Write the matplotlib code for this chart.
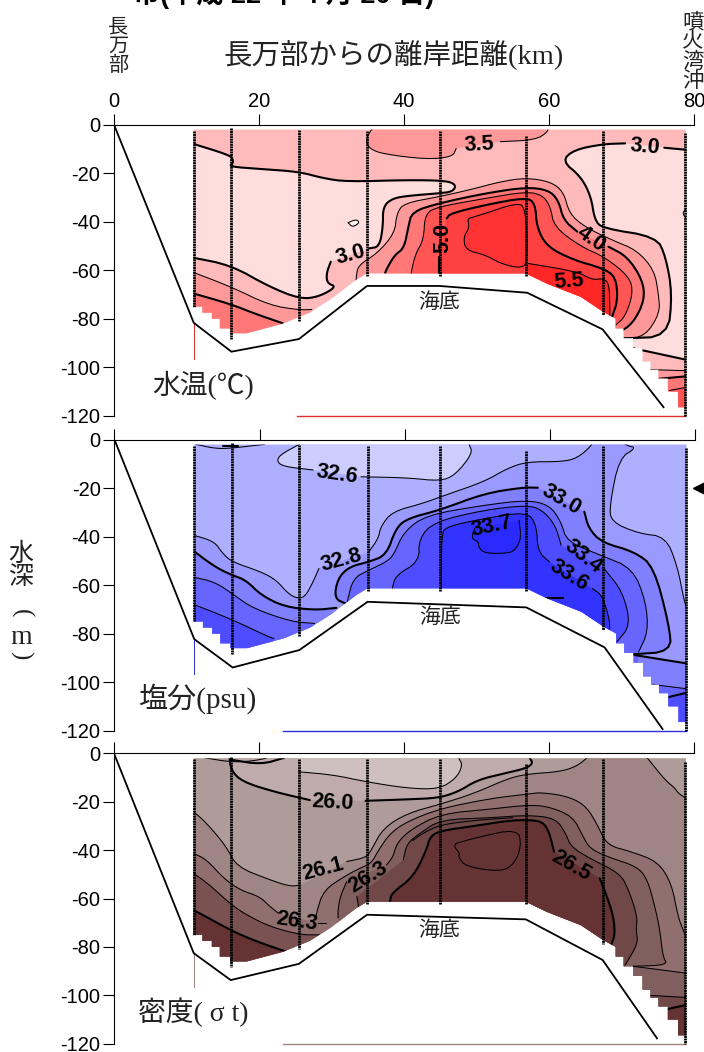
import numpy as np
import matplotlib
matplotlib.use("Agg")
import matplotlib.pyplot as plt
from matplotlib.patches import Polygon

SERIF = ['Liberation Serif', 'Noto Sans CJK JP']
SANS = ['Liberation Sans', 'Noto Sans CJK JP']
plt.rcParams['font.family'] = SANS

G = (np.nan, np.nan)  # gap in a contour, where its label sits
THIN, THICK = 0.75, 1.5

x_ticks = [0, 20, 40, 60, 80]
y_ticks = [0, -20, -40, -60, -80, -100, -120]
y_tick_labels = ['0', '-20', '-40', '-60', '-80', '-100', '-120']

station_km = [11.0, 16.2, 25.5, 34.9, 44.9, 56.8, 67.4, 78.8]
station_top = [2.5, 1.5, 2.2, 2.5, 2.5, 4.5, 2.5, 3.4]
station_bottom = [75, 88.5, 81, 62.3, 62.3, 62.3, 78.6, 120]

sea_km = [11, 12.2, 12.2, 13.5, 13.5, 14.6, 14.6, 16, 16, 18.3, 23.3, 27, 29.9, 33.4, 34.9,
          56.8, 59.7, 64.4, 67.4, 69.2, 69.2, 70.3, 70.3, 71.6, 71.6, 72.9, 72.9, 74, 74,
          75.1, 75.1, 76.4, 76.4, 77.8, 77.8, 78.9, 78.9]
sea_depth = [75, 75, 77.5, 77.5, 80, 80, 84, 84, 86, 86, 82, 77.5, 72, 64, 61.3,
             61.3, 65.5, 71, 77, 80, 84, 84, 88, 88, 92, 92, 97.7, 97.7, 101,
             101, 104.6, 104.6, 110, 110, 116.5, 116.5, 118]
sea_surface = 2.0

# ---------- water temperature contours (km, depth) ----------
seabed_T = [(0, 0), (11, 81.7), (16.2, 93.6), (25.5, 88.4), (34.9, 66.5), (44.9, 66.5), (57, 69.3), (67.4, 84.4), (75.8, 116.5)]
T30_left = [(10.5, 7.5), (15.9, 12.5), (16.4, 14.3), (16.4, 15.9), (15.9, 17.3), (20.4, 18.3), (25.5, 19.4), (28.9, 22.1),
            (32.1, 23.5), (40.6, 22.8), (45.9, 23.1), (47.2, 24.9), (46.7, 27.6), (44.8, 28.3), (40.6, 29.3), (38.4, 30.4),
            (37.1, 33.8), (37.1, 42.1), (36.6, 50.3), (35.2, 51), G, (29.9, 56.5), (29.3, 61.3), (29.4, 65.4), (30.7, 66.8),
            (28.3, 70.9), (25.7, 71.9), (21.4, 66.8), (16.1, 57.9), (10.5, 54.6)]
T30_right = [(79.5, 10.5), (75.9, 9.5), G, (70.5, 7.7), (67.4, 8), (63.4, 10.4), (61.8, 15), (64.4, 21.4), (65.8, 29.7),
             (66.3, 39.3), (67.4, 42.7), (74.8, 46.2), (76.1, 54.4), (77, 69.6), (76.4, 87.4), (70.3, 88.1), G, (71.6, 92.2), (79.5, 97.3)]
T25_oval = [(32.3, 40.4), (33.4, 39), (33.9, 40.4), (32.9, 42.3), (32.3, 40.4)]
T25_edge = [(78.9, 34.5), (78.4, 36.6), (78.9, 38.5)]
T35_surface = [(36.2, 0), (35.5, 1.9), (34.7, 6.3), (35.2, 9.8), (37.1, 12.1), (43.2, 14.3), (46.7, 13.2), (47.2, 9.8), G,
               (53.3, 7), (58.1, 6.3), (59.9, 2.9), (59.9, 0)]
T35_left = [(10.5, 60.4), (16.1, 66.8), (21.4, 74.4), (25.5, 76.4), (27.3, 76.2), G, (27.3, 100), (10.5, 100)]
T40_left = [(10.5, 69.2), (16.1, 74), (19.3, 77.8), (23.3, 81.9), G, (23.3, 100), (10.5, 100)]
T35_main = [(33.4, 66), (33.4, 62.7), (33.7, 57.9), (36.3, 53.1), (38.7, 44.8), (39, 36.6), (40, 32.4), (44.8, 29.7), (49, 26.9),
            (53.3, 23.5), (56.8, 21.9), (60.2, 23.5), (62, 27.6), (62.8, 36.6), (64.9, 42.1), (68.7, 47.6), (72.1, 51.7),
            (74.5, 59.9), (75.1, 69.6), (75.3, 77.8), (73.2, 87.4), (70.4, 88.1), G, (70.4, 100), (33.4, 100)]
T40_main = [(37.4, 62), (37.4, 60.6), (38.7, 53.7), (40, 51), (40.6, 42.1), (41.1, 35.9), (44.8, 32.4), (51.2, 28.3), (56.8, 25.8),
            (59.9, 26.9), (61.3, 31.1), (62, 39.3), (63.9, 44.1), G, (68.2, 50.3), (70.8, 54.4), (72.9, 64), (73.2, 72.3),
            (71.6, 81.9), (69.5, 86), G, (69.5, 100), (37.4, 100)]
T45_main = [(41, 62), (41, 60.6), (41.6, 53.1), (42.7, 47.6), (42.9, 36.6), (44.8, 33.8), (51.2, 30.4), (56.8, 27.6), (59.1, 29),
            (60.2, 33.8), (60.7, 42.1), (64.4, 50.3), (67.6, 54.4), (71.1, 62.7), (71.6, 69.6), (70.5, 79.2), (69.2, 82.6), G,
            (69.2, 100), (41, 100)]
T50_main = [(44.8, 62), (44.8, 54.4), G, (45.9, 38.6), (46.4, 36.6), (51.2, 33.1), (56.8, 30), (58.1, 32.4), (58.3, 42.1),
            (59.7, 50.3), (63.4, 55.8), (67.4, 59.2), (69.2, 62.7), (69.5, 72.3), (68.7, 79.2), G, (68.7, 100), (44.8, 100)]
T55_inner = [(49, 38.6), (51.2, 36.6), (55.4, 32.4), (56.8, 33.8), (57.1, 57.2), (55.9, 59.2), (53.3, 57.2), (51.2, 53.7),
             (48.5, 51.7), (48.2, 46.2), (49, 42.7), (48.8, 39.3), (49, 38.6)]
T55_low = [(57.1, 57.2), (63.9, 60.6), (66, 64), (67.4, 63.4), (68.3, 65.4), (68.4, 75.7), (68.4, 100), (57.1, 100)]
T35_right_low = [(74, 101), (79.5, 101.5), G, (79.5, 125), (74, 125)]
T40_right_low = [(75.1, 104.8), (79.5, 103.6), G, (79.5, 125), (75.1, 125)]
T45_right_low = [(76.6, 109.6), (79.5, 108), G, (79.5, 125), (76.6, 125)]
T_colors = ['#FFBBBB', '#FFDDDD', '#FFF2F2', '#FF9999', '#FF7777', '#FF5555', '#FF4040', '#FF3333', '#FF2626']
T_labels = ['3.5', '3.0', '3.0', '5.0', '4.0', '5.5']
T_label_km = [50.4, 73.2, 32.7, 45.3, 65.8, 62.7]
T_label_depth = [8.4, 9.1, 53.5, 46.9, 47.3, 64.5]
T_label_angle = [3, -5, 15, 90, -35, 4]

# ---------- salinity contours ----------
seabed_S = [(0, 0), (11, 82.3), (16.3, 94), (25.5, 86.8), (34.9, 66.9), (56.8, 69.2), (67.6, 85.7), (75.6, 119.4)]
S326 = [(25.5, 1.9), (22.8, 6.3), (22.4, 9.1), (23.4, 11.1), (27.4, 12.5), G, (34, 15.3), (40.4, 15.7), (44.9, 17.1), (47, 14.6),
        (49.4, 5.6), (48.9, 1.9), (48.9, 0), (25.5, 0)]
S326_lens = [(11.2, 1.9), (13.8, 3.6), (15.9, 3.6), (20.7, 1.9)]
S_mark = [(15, 2.6), (17, 2.6)]
S328 = [(65.9, 0), (65.9, 2.2), (63.8, 7.7), (61.6, 9.1), (56.9, 9.1), (54.2, 11.8), (51, 17.3), (45.7, 22.8), (42.5, 26.3), (38.3, 29.7),
        (36.7, 35.9), (36.4, 40.7), (35.1, 46.2), G, (28.2, 53.1), (27.4, 58.6), (26.3, 64.8), (25.2, 65.5), (23.9, 63.4), (22.3, 57.9),
        (20.2, 54.5), (16.2, 50.4), (14.9, 46.9), (13.8, 42.1), (11.2, 39.6), (10.5, 39.5), G, (10.5, 125), (79.5, 125), G,
        (79, 70), (78.6, 66.9), (77.6, 51.7), (76, 40), (72.3, 38.7), (68.5, 33.9), (68.3, 27), (69.6, 7.7), (72, 3.3), (70.7, 2.5), (69.6, 0)]
S330_main = [(32, 67.8), (30.3, 65.5), (30.8, 57.2), (32.4, 52.4), (35.1, 50.4), (37.5, 47.6), (38.8, 36.6), (40.4, 32.5), (44.9, 29),
             (51, 22.2), (56.3, 19.7), (58.4, 19.8), G, (64.8, 29.7), (65.4, 36.6), (67.2, 42.4), (71.7, 46.2), (74.4, 52.4), (76.5, 76.5),
             (76.8, 87.5), (71.2, 88.6), G, (70, 100), (32, 100)]
S330_left = [(10.5, 45), (13.8, 52.4), (16.2, 55.9), (18.1, 57.9), (20.2, 64.1), (23.4, 68.9), (27.6, 70.3), (30.6, 69.4), G, (30.6, 100), (10.5, 100)]
S330_right_low = [(71.2, 88.6), (78.8, 92.3), (79.5, 92.4), G, (79.5, 125), (71.2, 125)]
S332_main = [(32.1, 66.9), (32.9, 57.2), (35.1, 53.8), (37.5, 50.4), (38.5, 47.6), (39.9, 38), (43, 31.1), (51, 27), (56.9, 24.9), (60, 27),
             (61.6, 33.9), (62.4, 42.1), (67, 47.6), (71.5, 53.1), (73.3, 66.9), (73.6, 79.3), (72.3, 87.5), G, (72, 100), (32, 100)]
S332_left = [(10.5, 56.5), (13.8, 58.6), (16.5, 64.1), (19.1, 69.6), (24.4, 75.1), (27.6, 75.8), G, (27.6, 100), (10.5, 100)]
S332_right_low = [(74.2, 101), (79.5, 103), G, (79.5, 125), (74.2, 125)]
S334_main = [(38.3, 62), (38.3, 61.4), (38.8, 55.9), (42, 50.4), (42, 40.7), (44.1, 33.9), (51, 29), (56.9, 27), (59, 29), (60.8, 35.2), (61.6, 43.5), G,
             (67.5, 53.1), (70.1, 62.7), (71.2, 76.5), (69.3, 83.4), G, (69, 100), (38.3, 100)]
S334_left = [(10.5, 67.5), (15.9, 73.8), (21.3, 81.4), (22, 82), G, (22, 100), (10.5, 100)]
S334_right_low = [(75.3, 107), (79.5, 104), G, (79.5, 125), (75.3, 125)]
S336_main = [(45.1, 62), (45.1, 39.4), (45.7, 35.9), (51, 32.5), (56.9, 29.7), (58.2, 35.2), (58.4, 46.2), (60, 50.4), G, (65.9, 61.4),
             (67.2, 64.1), (68, 71), (68.4, 77.2), (68, 80), G, (67, 100), (45, 100)]
S337 = [(55.8, 33.2), (56.1, 40.7), (55.3, 45.5), (54.2, 46.9), (51, 46.9), (50.2, 44.2), (50.2, 42.1), (49.2, 40.7), (49.7, 36.6)]
S_dash = [(59.5, 65.5), (61.9, 65.5)]
S_colors = ['#AFAFFF', '#CCCCFF', '#9999FF', '#8080FF', '#6666FF', '#4D4DFF', '#3333FF', '#2A2AFF']
S_labels = ['32.6', '32.8', '33.0', '33.4', '33.6', '33.7']
S_label_km = [30.7, 31.3, 61.6, 64.7, 62.7, 52.1]
S_label_depth = [14.3, 49.7, 24.9, 48.3, 55.9, 35.9]
S_label_angle = [-8, 15, -30, -38, -32, 12]

# ---------- density contours ----------
seabed_D = [(0, 0), (11, 82.6), (16.1, 93.7), (25.5, 87), (34.9, 66.7), (56.8, 68.6), (67.4, 85.4), (74.9, 117.8)]
D259 = [(25.5, 7.6), (30.3, 8.9), (34.7, 11.7), (40.4, 14.4), (44.8, 14.8), (47.2, 10.3), (48.1, 4.8), (47.5, 1.8), (47.5, 0), (25.5, 0)]
D260 = [(15.9, 0), (16.1, 6.9), (17.7, 11.7), (22, 15.8), (27, 19.3), G, (34.7, 19.6), (40.6, 19), (44.8, 18.4), (47.5, 15.8), (50.1, 11),
        (53.8, 8.3), (56.8, 6.2), (57.8, 4.1), (57.3, 1.8), (57.3, 0)]
D_top_thin = [(12.5, 1.8), (16.1, 3.6), (19, 3.2), (21, 2)]
D_top_thick = [(16.1, 2.6), (20.3, 4.6), (23.5, 1.8)]
D261 = [(65.4, 0), (65.4, 1.6), (63.7, 5.5), (61.4, 7.6), (57.1, 8.5), (54.4, 10.3), (49.7, 16.5), (45, 21), (40.4, 24.8), (37.1, 31), (35.5, 39.9),
        (34.8, 43), (32.1, 44.7), G, (25.7, 54.4), (24.3, 55), (21.5, 52.3), (16.9, 46.8), (15.5, 38.5), (12.8, 28.9), (11, 24.1), (10.5, 24), G,
        (10.5, 125), (79.5, 125), G, (79.5, 19.6), (77.8, 16.5), (77.4, 14.4), (76, 11), (73.6, 2), (73, 0)]
D262_main = [(27.9, 68), (27.9, 66.1), (28.9, 56.5), (32.1, 50.3), (33.9, 47.5), (35.5, 45.4), (36.5, 39.9), (38.1, 33), (40.4, 28.2), (45, 22.8),
             (52, 18.6), (57.1, 16.8), (59, 16.1), (62.8, 17.9), (65.2, 22), (66.8, 30.3), (68, 37.9), (71.3, 40.6), (75, 44.7), (76.9, 53.7),
             (77.8, 67.5), (78.5, 73), (79.5, 80), G, (79.5, 125), (28, 125)]
D262_left = [(10.5, 41.3), (11, 41.3), (12.8, 44), (15.1, 51.6), (17.4, 56.5), (20.1, 59.2), (21.5, 63.3), (22.7, 66.1), G, (28.2, 70.2), (29.3, 70.2), G,
             (30, 100), (10.5, 100)]
D263_main = [(30.9, 68), (30.9, 64.7), (31.2, 59.2), (32.1, 53), G, (37.6, 46.1), (38.5, 42.7), (39, 37.2), (40.8, 31.7), (45, 25), (52, 23), (57.1, 21.3),
             (60, 22), (63.3, 26.1), (64.7, 34.4), (65.6, 39.2), (68, 42.7), (72.2, 46.8), (73.6, 52.3), (74.6, 63.3), (75.3, 73), (75.7, 84), (76.4, 87.5),
             (71.6, 88), G, (71, 100), (31, 100)]
D263_left = [(10.5, 49.6), (11, 49.6), (13.2, 54.4), (16.2, 62.6), (18.3, 66.8), (21.5, 71.6), (25.7, 75), (28.4, 75), G, (28.4, 100), (10.5, 100)]
D263_right_low = [(71.6, 88), (78.8, 90.8), (79.5, 91), G, (79.5, 125), (71.6, 125)]
D264_main = [(33.7, 64), (33.7, 62.6), (33.5, 59.2), G, (39.9, 44), (40.4, 37.2), (42.2, 33), (45, 27.4), (52, 26.6), (57.1, 25.5), (60.9, 26.8), (62.3, 33),
             (63, 38.5), (65.6, 43.4), (69.8, 49.6), (71, 56.5), (72.2, 67.5), (72, 73), (72.3, 78.5), (70.5, 87.5), G, (70, 100), (34, 100)]
D264_extra = [(41.2, 36), (42.6, 33), (45, 29.5), (50, 27.6), (55, 26.6)]
D264_right_low = [(73.9, 100), (79.5, 101), G, (79.5, 125), (73.9, 125)]
D265_main = [(38, 62), (38.1, 60.6), (38.3, 57.8), (41.3, 51), (43.1, 39.9), (43.6, 34.4), (45, 32), (49.7, 30), (54.4, 27.8), (57.1, 27.5), (59.1, 28.2),
             (60, 32.3), (60.7, 40.6), G, (67, 51.6), (68, 59.2), (68.9, 67.5), (69.1, 75), (68.6, 79), G, (68.5, 100), (38, 100)]
D265_left = [(10.5, 64.7), (11, 64.7), (16.2, 73.3), (19.7, 77.8), (23.8, 82), G, (24, 100), (10.5, 100)]
D265_right_low = [(75.2, 106.5), (78.8, 104), (79.5, 104), G, (79.5, 125), (75.2, 125)]
D266 = [(47.2, 37.2), (49.6, 35.1), (55.7, 31), (56.2, 38.6), (55.1, 46.1), (53.3, 48.9), (48.5, 46.8), (47.5, 42.7), (47.7, 41.3), (46.9, 38.6), (47.2, 37.2)]
D_colors = ['#B09B9B', '#BFABAB', '#CFC0C0', '#A08585', '#916F6F', '#825F5F', '#704848', '#7A5252', '#653333']
D_labels = ['26.0', '26.1', '26.3', '26.3', '26.5']
D_label_km = [30.2, 28.8, 35, 25.2, 63.1]
D_label_depth = [20.4, 47.9, 51, 69.6, 46.6]
D_label_angle = [-3, 15, 32, -8, -30]

W, H = 704, 1052
fig = plt.figure(figsize=(W / 100, H / 100), dpi=100, facecolor='white')
INK = '#222222'


def make_axes(top_px, bottom_px, left_px=114, show_x=False):
    ax = fig.add_axes([left_px / W, 1 - bottom_px / H, 580 / W, (bottom_px - top_px) / H])
    ax.set_xlim(0, 80)
    ax.set_ylim(-120, 0)
    for s in ('right', 'bottom'):
        ax.spines[s].set_visible(False)
    for s in ('top', 'left'):
        ax.spines[s].set_linewidth(0.8)
    ax.xaxis.tick_top()
    ax.set_xticks(x_ticks)
    ax.set_yticks(y_ticks)
    ax.set_yticklabels(y_tick_labels, fontsize=14.5)
    ax.tick_params(axis='y', length=8, width=0.8, pad=2)
    ax.tick_params(axis='x', length=8, width=0.8, pad=2, labelsize=14.5, labeltop=show_x)
    return ax


def sea_patch(ax, color):
    xs = [sea_km[0]] + [sea_km[-1]] + sea_km[::-1]
    ys = [sea_surface, sea_surface] + sea_depth[::-1]
    p = Polygon(np.column_stack([xs, -np.array(ys)]), closed=True, facecolor=color, edgecolor='none', zorder=1)
    ax.add_patch(p)
    return p


def rounded(run, passes=2):
    """Round the corners of one traced run of a contour, keeping its two ends."""
    for _ in range(passes):
        if len(run) < 3:
            return run
        q = 0.75 * run[:-1] + 0.25 * run[1:]
        r = 0.25 * run[:-1] + 0.75 * run[1:]
        mid = np.empty((2 * len(q), 2))
        mid[0::2] = q
        mid[1::2] = r
        run = np.vstack([run[:1], mid, run[-1:]])
    return run


def region(ax, sea, pts, color=None, lw=THIN):
    a = np.array(pts, float)
    a[:, 1] *= -1
    breaks = np.where(np.isnan(a[:, 0]))[0]
    runs = [rounded(r) for r in np.split(a, breaks) for r in [r[~np.isnan(r[:, 0])]] if len(r)]
    if color is not None:
        solid = np.vstack(runs)
        f = ax.fill(solid[:, 0], solid[:, 1], facecolor=color, edgecolor='none', lw=0, zorder=2)[0]
        f.set_clip_path(sea)
    if lw:
        for r in runs:
            ln = ax.plot(r[:, 0], r[:, 1], color='k', lw=lw, zorder=3, solid_capstyle='round')[0]
            ln.set_clip_path(sea)


def finish(ax, seabed, line_color, start_km, labels, lab_km, lab_d, lab_ang):
    b = np.array(seabed, float)
    ax.plot(b[:, 0], -b[:, 1], color='k', lw=1.3, zorder=4, solid_joinstyle='miter')
    for km, t, e in zip(station_km, station_top, station_bottom):
        ax.plot([km, km], [-t, -e], color='k', lw=2.0, ls=(0, (0.7, 0.22)), zorder=5, clip_on=False)
    ax.plot([11, 11], [-82, -96.5], color=line_color, lw=0.7, zorder=1)
    ax.plot([start_km, station_km[-1]], [-120, -120], color=line_color, lw=1.0, zorder=1, clip_on=False)
    for t, k, d, r in zip(labels, lab_km, lab_d, lab_ang):
        ax.text(k, -d, t, fontsize=15.5, fontweight='bold', ha='center', va='center', rotation=r,
                rotation_mode='anchor', zorder=6)
    ax.text(44.9, -73.5, '海底', family=SERIF, fontsize=15, ha='center', va='center', color=INK, zorder=6)


# ---- panel 1: temperature
ax1 = make_axes(124.7, 415.7, show_x=True)
sea = sea_patch(ax1, T_colors[0])
region(ax1, sea, T30_left, T_colors[1], THICK)
region(ax1, sea, T30_right, T_colors[1], THICK)
region(ax1, sea, T25_oval, T_colors[2])
region(ax1, sea, T25_edge, T_colors[2])
region(ax1, sea, T35_surface, T_colors[3])
region(ax1, sea, T35_left, T_colors[3])
region(ax1, sea, T40_left, T_colors[4], THICK)
region(ax1, sea, T35_main, T_colors[3])
region(ax1, sea, T40_main, T_colors[4], THICK)
region(ax1, sea, T45_main, T_colors[5])
region(ax1, sea, T50_main, T_colors[6], THICK)
region(ax1, sea, T55_inner, T_colors[7])
region(ax1, sea, T55_low, T_colors[8])
region(ax1, sea, T35_right_low, T_colors[3])
region(ax1, sea, T40_right_low, T_colors[4], THICK)
region(ax1, sea, T45_right_low, T_colors[5])
finish(ax1, seabed_T, '#E03030', 25.3, T_labels, T_label_km, T_label_depth, T_label_angle)
ax1.text(0.0655, 0.103, '水温(℃)', transform=ax1.transAxes, family=SERIF, fontsize=20, ha='left', va='center', color=INK)

# ---- panel 2: salinity
ax2 = make_axes(439.7, 730.5, left_px=114.5)
sea = sea_patch(ax2, S_colors[0])
region(ax2, sea, S326, S_colors[1])
region(ax2, sea, S326_lens)
region(ax2, sea, S_mark, None, THICK)
region(ax2, sea, S328, S_colors[2])
region(ax2, sea, S330_main, S_colors[3], THICK)
region(ax2, sea, S330_left, S_colors[3], THICK)
region(ax2, sea, S330_right_low, S_colors[3], THICK)
region(ax2, sea, S332_main, S_colors[4])
region(ax2, sea, S332_left, S_colors[4])
region(ax2, sea, S332_right_low, S_colors[4])
region(ax2, sea, S334_main, S_colors[5])
region(ax2, sea, S334_left, S_colors[5])
region(ax2, sea, S334_right_low, S_colors[5], THICK)
region(ax2, sea, S336_main, S_colors[6])
region(ax2, sea, S337, S_colors[7])
region(ax2, sea, S_dash, None, THICK)
finish(ax2, seabed_S, '#3030DD', 23.2, S_labels, S_label_km, S_label_depth, S_label_angle)
ax2.text(0.041, 0.108, '塩分(psu)', transform=ax2.transAxes, family=SERIF, fontsize=21, ha='left', va='center', color=INK)
ax2.plot([80.85], [-20], marker='<', color='k', ms=11, clip_on=False, zorder=7, ls='none')

# ---- panel 3: density
ax3 = make_axes(753.4, 1043.7)
sea = sea_patch(ax3, D_colors[0])
region(ax3, sea, D260, D_colors[1], THICK)
region(ax3, sea, D259, D_colors[2])
region(ax3, sea, D_top_thin)
region(ax3, sea, D_top_thick, None, THICK)
region(ax3, sea, D261, D_colors[3])
region(ax3, sea, D262_main, D_colors[4])
region(ax3, sea, D262_left, D_colors[4])
region(ax3, sea, D263_main, D_colors[5])
region(ax3, sea, D263_left, D_colors[7])
region(ax3, sea, D263_right_low, D_colors[5])
region(ax3, sea, D264_main, D_colors[6])
region(ax3, sea, D264_extra)
region(ax3, sea, D264_right_low, D_colors[6])
region(ax3, sea, D265_main, D_colors[8], THICK)
region(ax3, sea, D265_left, D_colors[8], THICK)
region(ax3, sea, D265_right_low, D_colors[8], THICK)
region(ax3, sea, D266, D_colors[8])
finish(ax3, seabed_D, '#A08080', 23.3, D_labels, D_label_km, D_label_depth, D_label_angle)
ax3.text(0.041, 0.108, '密度( σ t)', transform=ax3.transAxes, family=SERIF, fontsize=20, ha='left', va='center', color=INK)


def px_text(x, y, s, **kw):
    fig.text(x / W, 1 - y / H, s, **kw)


px_text(394, 55, '長万部からの離岸距離(km)', family=SERIF, fontsize=20.5, ha='center', va='center', color=INK)
px_text(118, 47, '長\n万\n部', family=SERIF, fontsize=14.5, ha='center', va='center', linespacing=1.0, color=INK)
px_text(693, 53, '噴\n火\n湾\n沖', family=SERIF, fontsize=15.5, ha='center', va='center', linespacing=1.0, color=INK)
px_text(21, 566, '水\n深', family=SERIF, fontsize=18, ha='center', va='center', linespacing=1.0, color=INK)
px_text(21, 613, '(', family=SERIF, fontsize=18, ha='center', va='center', rotation=-90, color=INK)
px_text(21, 638, 'm', family=SERIF, fontsize=20, ha='center', va='center', color=INK)
px_text(21, 655, ')', family=SERIF, fontsize=18, ha='center', va='center', rotation=-90, color=INK)
px_text(133, 3, '市(平成 22 年 4 月 20 日)', fontsize=19.5, fontweight='bold', ha='left', va='baseline')

fig.savefig('out.png', dpi=100, facecolor='white')
